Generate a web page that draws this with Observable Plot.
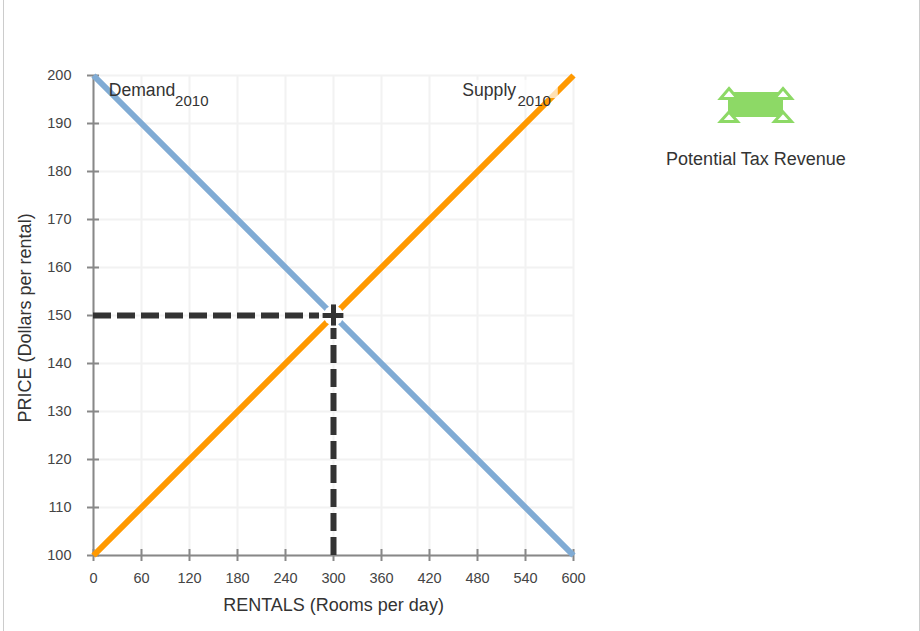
<!DOCTYPE html>
<html><head><meta charset="utf-8">
<script src="https://cdn.jsdelivr.net/npm/d3@7"></script>
<script src="https://cdn.jsdelivr.net/npm/@observablehq/plot@0.6"></script>
<style>
html,body{margin:0;padding:0;background:#fff;overflow:hidden}
#wrap{position:relative;width:920px;height:631px;font-family:"Liberation Sans",Arial,sans-serif}
.edge{position:absolute;top:0;bottom:0;width:1px;background:#ccc}
#chart{position:absolute;left:0;top:0}
#legend{position:absolute;left:656px;top:80px;width:200px;text-align:center;color:#333;font-size:18px}
#legend svg{display:block;margin:0 auto 0;}
#legend div{margin-top:23px}
</style></head><body>
<div id="wrap"><div class="edge" style="left:3px"></div><div class="edge" style="left:919px"></div><div id="chart"></div>
<div id="legend"><svg width="80" height="46" viewBox="0 0 80 46"><rect x="12" y="12" width="55" height="25" fill="#8dd966"/><g fill="#fff" stroke="#8dd966" stroke-width="3"><path d="M13 8.5 L21.5 18.5 L4.5 18.5Z"/><path d="M67 8.5 L75.5 18.5 L58.5 18.5Z"/><path d="M13 32 L21.5 41.5 L4.5 41.5Z"/><path d="M67 32 L75.5 41.5 L58.5 41.5Z"/></g></svg><div>Potential Tax Revenue</div></div>
</div>
<script>
const xTicks=[0,60,120,180,240,300,360,420,480,540,600];
const yTicks=[100,110,120,130,140,150,160,170,180,190,200];
const demandQ=[0,300,600], demandP=[200,150,100];
const supplyQ=[0,300,600], supplyP=[100,150,200];
const eqQ=300, eqP=150;
const demand=demandQ.map((q,i)=>({q,p:demandP[i]}));
const supply=supplyQ.map((q,i)=>({q,p:supplyP[i]}));
const axisColor="#888", gridColor="#f2f2f2", ink="#333";
const svg=Plot.plot({
  width:920,height:631,marginLeft:93,marginRight:347,marginTop:75,marginBottom:76,
  style:{fontFamily:'"Liberation Sans",Arial,sans-serif',background:"transparent"},
  x:{domain:[0,600],label:null},
  y:{domain:[100,200],label:null},
  marks:[
    Plot.ruleX(xTicks,{stroke:gridColor,strokeWidth:2}),
    Plot.ruleY(yTicks,{stroke:gridColor,strokeWidth:2}),
    Plot.ruleX(xTicks,{y1:100,y2:101.25,stroke:axisColor,strokeWidth:2}),
    Plot.ruleY(yTicks,{x1:0,x2:7.5,stroke:axisColor,strokeWidth:2}),
    Plot.ruleX([0],{stroke:axisColor,strokeWidth:2}),
    Plot.ruleY([100],{stroke:axisColor,strokeWidth:2}),
    Plot.axisX({ticks:xTicks,tickFormat:d=>d,tickSize:6,tickPadding:11,stroke:axisColor,strokeWidth:2,fontSize:14.5,color:"#444",strokeOpacity:1,label:null}),
    Plot.axisY({ticks:yTicks,tickFormat:d=>d,tickSize:6,tickPadding:16,stroke:axisColor,strokeWidth:2,fontSize:14.5,color:"#444",strokeOpacity:1,label:null}),
    Plot.line(demand,{x:"q",y:"p",stroke:"#80abd4",strokeWidth:6,strokeLinecap:"butt"}),
    Plot.line(supply,{x:"q",y:"p",stroke:"#ff9900",strokeWidth:6,strokeLinecap:"butt"}),
    Plot.rect([{}],{x1:461,x2:581,y1:195.2,y2:199,fill:"#fff",fillOpacity:0.7}),
    Plot.dot([{q:eqQ,p:eqP}],{x:"q",y:"p",r:10,fill:"#fff"}),
    Plot.ruleY([eqP],{x1:0,x2:282.5,stroke:ink,strokeWidth:6,strokeDasharray:"18,6"}),
    Plot.ruleX([eqQ],{y1:100,y2:147.3,stroke:ink,strokeWidth:6,strokeDasharray:"18,6"}),
    Plot.ruleY([eqP],{x1:eqQ-13,x2:eqQ+13,stroke:ink,strokeWidth:5}),
    Plot.ruleX([eqQ],{y1:eqP-2.2,y2:eqP+2.2,stroke:ink,strokeWidth:5}),
    Plot.text(["Demand"],{x:19,y:197,text:d=>d,textAnchor:"start",fontSize:17.6,fill:"#333"}),
    Plot.text(["2010"],{x:102,y:194.7,text:d=>d,textAnchor:"start",fontSize:15,fill:"#333"}),
    Plot.text(["Supply"],{x:461,y:197,text:d=>d,textAnchor:"start",fontSize:17.6,fill:"#333"}),
    Plot.text(["2010"],{x:530,y:194.7,text:d=>d,textAnchor:"start",fontSize:15,fill:"#333"}),
    Plot.text(["RENTALS (Rooms per day)"],{x:300,y:89.6,text:d=>d,fontSize:18,fill:"#333",clip:false}),
    Plot.text(["PRICE (Dollars per rental)"],{x:-85,y:149.5,text:d=>d,rotate:-90,fontSize:18,fill:"#333",clip:false})
  ]
});
document.getElementById("chart").appendChild(svg);
</script></body></html>
